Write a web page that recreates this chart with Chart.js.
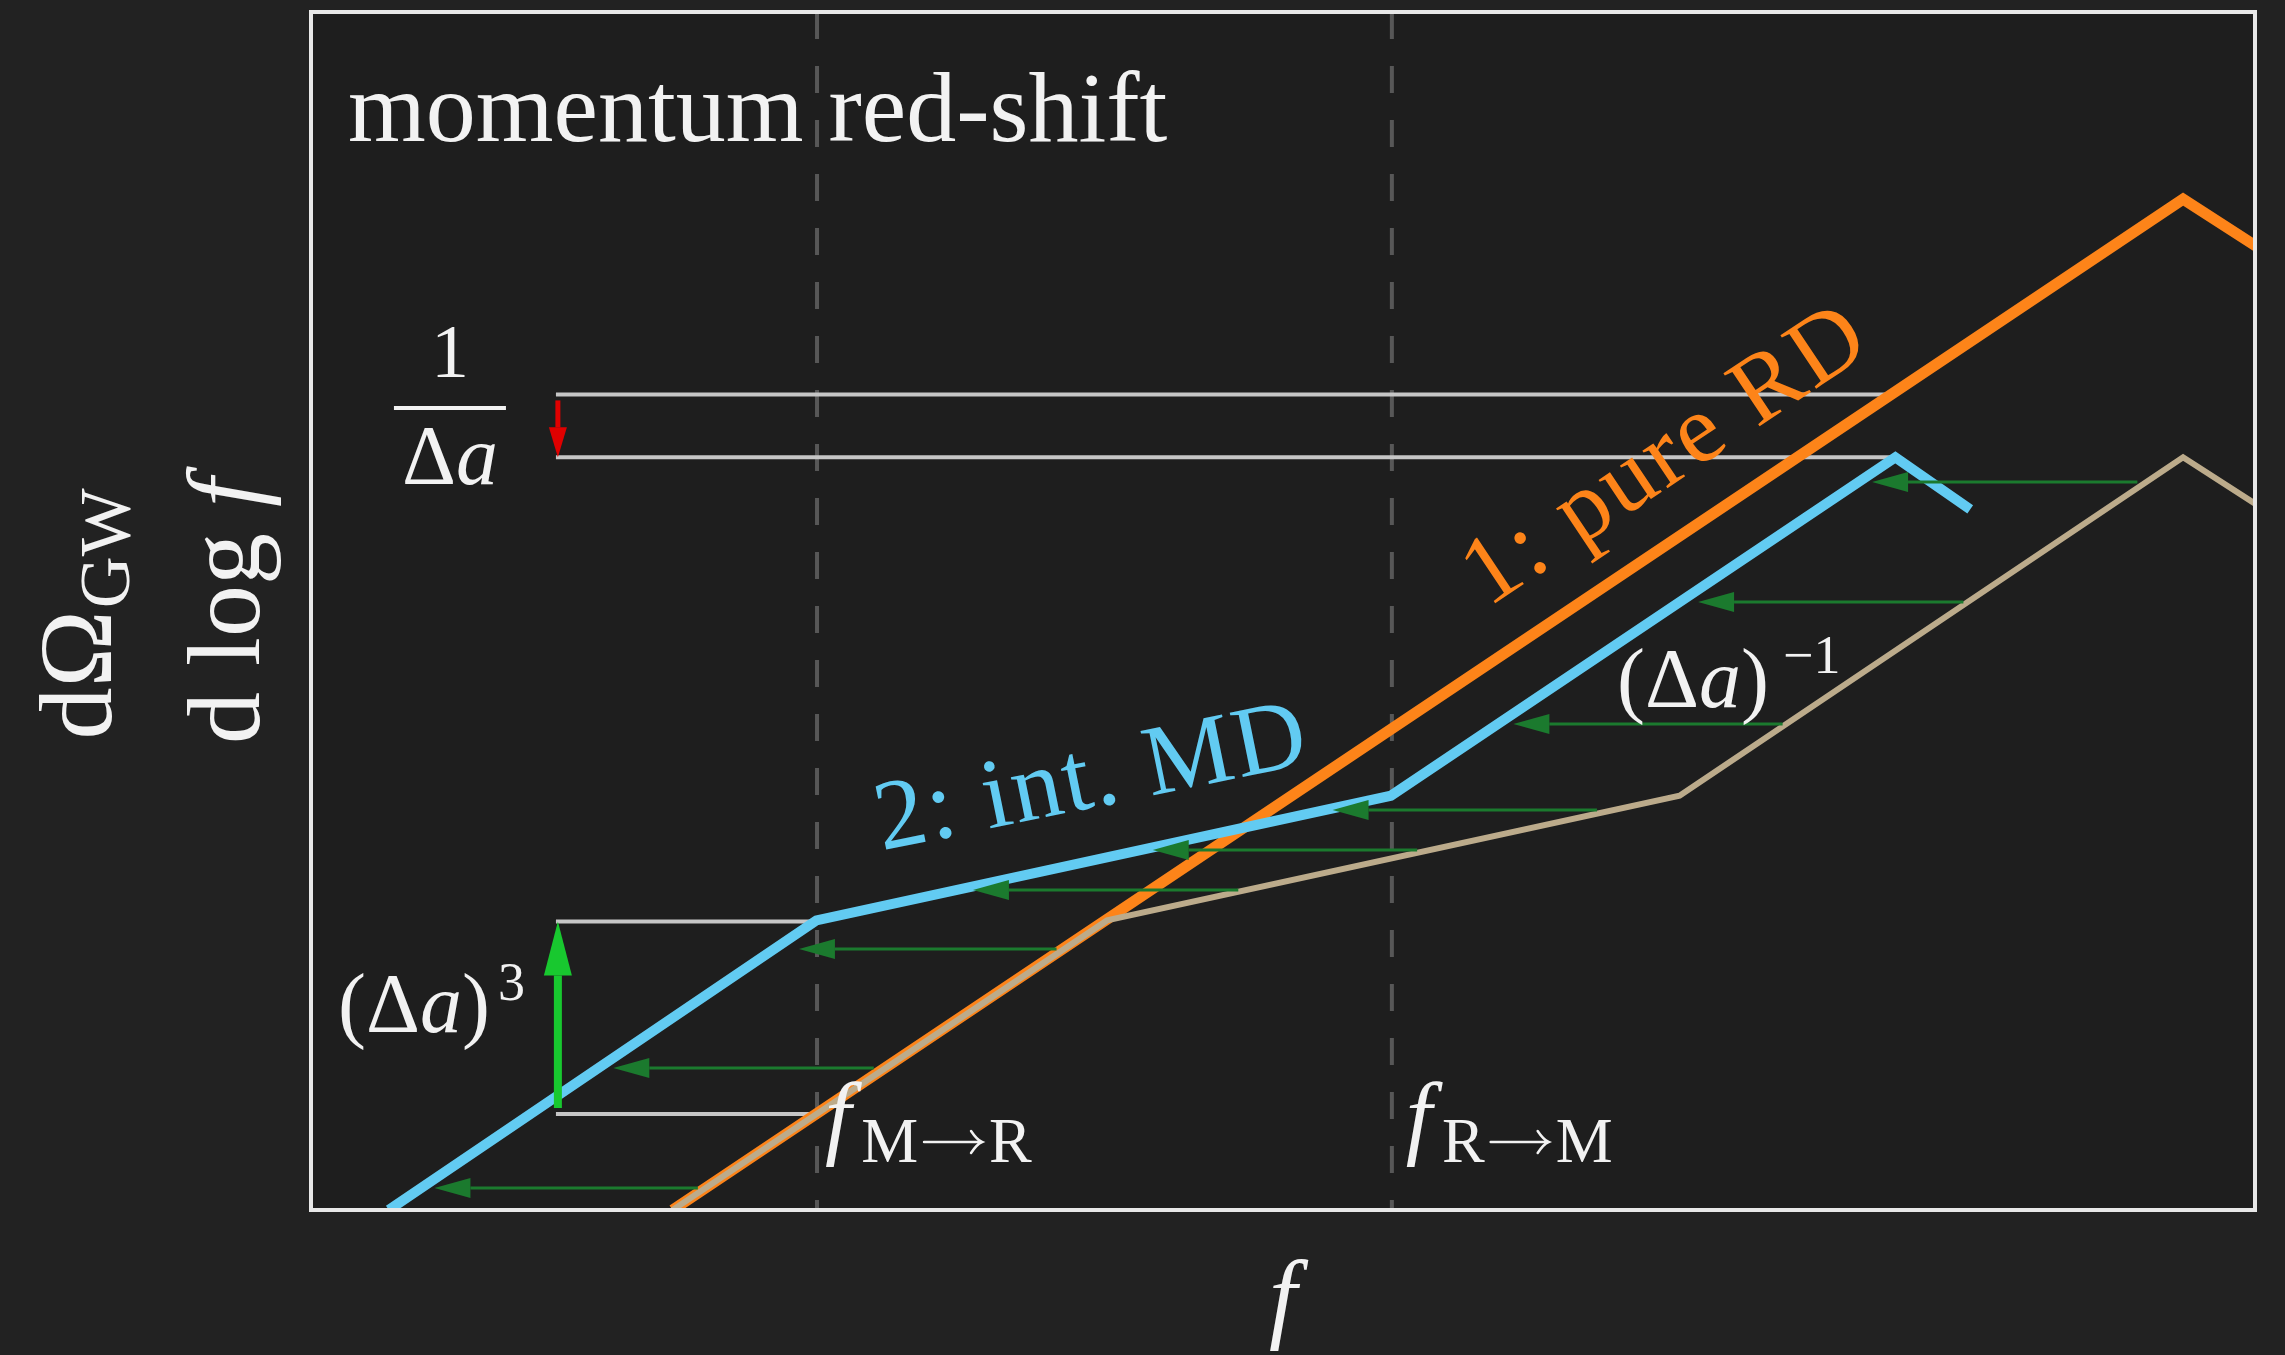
<!DOCTYPE html>
<html>
<head>
<meta charset="utf-8">
<script src="https://cdn.jsdelivr.net/npm/chart.js@4.4.1/dist/chart.umd.min.js"></script>
<style>
  html, body { margin: 0; padding: 0; background: #222222; }
</style>
</head>
<body>
<canvas id="sketch" width="2285" height="1355"></canvas>
<script>
// log f on x, log dOmega/dlog f on y (arbitrary units)
const rdX = [3.72, 19.26, 20.3]
const rdY = [0, 46.6, 43.6]
const mdX = [0.80, 5.20, 11.11, 16.30, 17.07]
const mdY = [0, 13.35, 19.1, 34.7, 32.3]
const shiftedX = [3.72, 8.19, 14.08, 19.26, 20.3]
const shiftedY = [0, 13.35, 19.1, 34.7, 31.7]

// f_M->R and f_R->M
const transitionX = [5.206, 11.12]
const transitionFrom = ['M', 'R']
const transitionTo = ['R', 'M']

// red-shift arrows: level, tail on shifted curve, head at int. MD curve
const arrowY = [1.01, 6.55, 12.03, 14.75, 16.60, 18.44, 22.41, 28.03, 33.56]
const arrowFrom = [3.98, 5.79, 7.67, 9.54, 11.38, 13.23, 15.14, 17.00, 18.79]
const arrowTo = [1.27, 3.11, 5.02, 6.81, 8.66, 10.51, 12.37, 14.27, 16.06]

// amplitude gaps: (Delta a)^3 at f_M->R, 1/Delta a at the peak
const lowBandY = [4.43, 13.3]
const highBandY = [34.7, 37.6]
const bandStartX = 2.52
const bandArrowX = 2.54

const X_MAX = 20
const Y_MAX = 55.23

const BLUE = '#62cbf2'
const ORANGE = '#fd8419'
const TAN = '#bcab8b'
const WHITE = '#f2f2f2'
const SERIF = '"Liberation Serif", "DejaVu Serif", serif'

const toPoints = (xs, ys) => xs.map((x, i) => ({x: x, y: ys[i]}))

function arrow(ctx, x0, y0, x1, y1, color, width, headLen, headHalf) {
  const a = Math.atan2(y1 - y0, x1 - x0)
  const bx = x1 - Math.cos(a) * headLen
  const by = y1 - Math.sin(a) * headLen
  ctx.strokeStyle = color
  ctx.lineWidth = width
  ctx.lineCap = 'butt'
  ctx.beginPath()
  ctx.moveTo(x0, y0)
  ctx.lineTo(bx, by)
  ctx.stroke()
  ctx.fillStyle = color
  ctx.beginPath()
  ctx.moveTo(x1, y1)
  ctx.lineTo(bx - Math.sin(a) * headHalf, by + Math.cos(a) * headHalf)
  ctx.lineTo(bx + Math.sin(a) * headHalf, by - Math.cos(a) * headHalf)
  ctx.closePath()
  ctx.fill()
}

// thin text-style right arrow, as in M->R
function textArrow(ctx, x, y, w) {
  ctx.save()
  ctx.strokeStyle = ctx.fillStyle
  ctx.lineWidth = 2.5
  ctx.lineCap = 'round'
  ctx.beginPath()
  ctx.moveTo(x, y)
  ctx.lineTo(x + w, y)
  ctx.moveTo(x + w - 11, y - 11)
  ctx.quadraticCurveTo(x + w - 5, y - 2, x + w, y)
  ctx.quadraticCurveTo(x + w - 5, y + 2, x + w - 11, y + 11)
  ctx.stroke()
  ctx.restore()
}

// draws a row of text pieces with their own fonts and shifts
function runs(ctx, parts, x, y, align) {
  let w = 0
  parts.forEach(p => {
    if (p.arrowW) { p.w = p.arrowW } else { ctx.font = p.font; p.w = ctx.measureText(p.t).width }
    w += p.w + (p.gap || 0)
  })
  let cx = align === 'center' ? x - w / 2 : x
  parts.forEach(p => {
    if (p.arrowW) {
      textArrow(ctx, cx, y + (p.dy || 0), p.arrowW)
    } else {
      ctx.font = p.font
      ctx.fillText(p.t, cx, y + (p.dy || 0))
    }
    cx += p.w + (p.gap || 0)
  })
}

function deltaA(size, supText, supSize, supDy, supGap) {
  const parts = [
    {t: '(', font: size + 'px ' + SERIF},
    {t: '\u0394', font: size + 'px ' + SERIF},
    {t: 'a', font: 'italic ' + size + 'px ' + SERIF},
    {t: ')', font: size + 'px ' + SERIF, gap: supGap}
  ]
  if (supText) parts.push({t: supText, font: supSize + 'px ' + SERIF, dy: supDy})
  return parts
}

const sketch = {
  id: 'sketch',
  beforeDraw(chart) {
    const {ctx, chartArea: ca} = chart
    ctx.save()
    ctx.fillStyle = '#222222'
    ctx.fillRect(0, 0, chart.width, chart.height)
    ctx.fillStyle = '#1e1e1e'
    ctx.fillRect(ca.left, ca.top, ca.right - ca.left, ca.bottom - ca.top)
    ctx.restore()
  },
  beforeDatasetsDraw(chart) {
    const {ctx, chartArea: ca, scales} = chart
    const X = v => scales.x.getPixelForValue(v)
    const Y = v => scales.y.getPixelForValue(v)
    ctx.save()
    // transition frequencies
    ctx.strokeStyle = '#575757'
    ctx.lineWidth = 4
    ctx.setLineDash([27, 27])
    transitionX.forEach(v => {
      ctx.beginPath()
      ctx.moveTo(X(v), ca.top)
      ctx.lineTo(X(v), ca.bottom)
      ctx.stroke()
    })
    ctx.setLineDash([])
    // reference levels
    ctx.strokeStyle = '#c6c6c6'
    ctx.lineWidth = 4
    lowBandY.forEach(v => {
      ctx.beginPath(); ctx.moveTo(X(bandStartX), Y(v)); ctx.lineTo(X(transitionX[0]), Y(v)); ctx.stroke()
    })
    highBandY.forEach(v => {
      ctx.beginPath(); ctx.moveTo(X(bandStartX), Y(v)); ctx.lineTo(X(mdX[3]), Y(v)); ctx.stroke()
    })
    ctx.restore()
  },
  afterDatasetsDraw(chart) {
    const {ctx, chartArea: ca, scales} = chart
    const X = v => scales.x.getPixelForValue(v)
    const Y = v => scales.y.getPixelForValue(v)
    ctx.save()
    arrowY.forEach((v, i) => {
      arrow(ctx, X(arrowFrom[i]), Y(v), X(arrowTo[i]), Y(v), '#1b7a2e', 3, 36, 10)
    })
    arrow(ctx, X(bandArrowX), Y(lowBandY[0]) - 6, X(bandArrowX), Y(lowBandY[1]), '#18c82f', 8, 54, 14)
    arrow(ctx, X(bandArrowX), Y(highBandY[1]) + 6, X(bandArrowX), Y(highBandY[0]), '#e00000', 5, 30, 9)

    // frame
    ctx.strokeStyle = '#e8e8e8'
    ctx.lineWidth = 4
    ctx.strokeRect(ca.left, ca.top, ca.right - ca.left, ca.bottom - ca.top)
    ctx.restore()
  },
  afterDraw(chart) {
    const {ctx, chartArea: ca, scales} = chart
    const X = v => scales.x.getPixelForValue(v)
    const Y = v => scales.y.getPixelForValue(v)
    ctx.save()
    ctx.textAlign = 'left'
    ctx.textBaseline = 'alphabetic'
    ctx.fillStyle = WHITE

    ctx.font = '100px ' + SERIF
    ctx.fillText('momentum red-shift', ca.left + 37, ca.top + 129)

    // curve labels along their segments
    const rdAngle = Math.atan2(Y(rdY[1]) - Y(rdY[0]), X(rdX[1]) - X(rdX[0]))
    ctx.save()
    ctx.translate(X(14.1), Y(33.72))
    ctx.rotate(rdAngle)
    ctx.fillStyle = ORANGE
    ctx.textAlign = 'center'
    ctx.letterSpacing = '3px'
    ctx.font = '98px ' + SERIF
    ctx.fillText('1: pure RD', 0, 0)
    ctx.restore()

    const mdAngle = Math.atan2(Y(mdY[2]) - Y(mdY[1]), X(mdX[2]) - X(mdX[1]))
    ctx.save()
    ctx.translate(X(8.09), Y(18.6))
    ctx.rotate(mdAngle * 0.94)
    ctx.fillStyle = BLUE
    ctx.textAlign = 'center'
    ctx.letterSpacing = '2px'
    ctx.font = '100px ' + SERIF
    ctx.fillText('2: int. MD', 0, 0)
    ctx.restore()

    // gap labels
    runs(ctx, deltaA(84, '\u22121', 54, -34, 14), 1617, 707, 'left')
    runs(ctx, deltaA(84, '3', 54, -32, 8), 338, 1032, 'left')

    const fx = X(bandStartX) - 106
    ctx.textAlign = 'center'
    ctx.font = '76px ' + SERIF
    ctx.fillText('1', fx, 377)
    ctx.fillRect(fx - 56, 406, 112, 4)
    ctx.textAlign = 'left'
    runs(ctx, [
      {t: '\u0394', font: '84px ' + SERIF},
      {t: 'a', font: 'italic 84px ' + SERIF}
    ], fx, 484, 'center')

    // transition frequency labels
    transitionX.forEach((v, i) => {
      const x0 = X(v) + (i === 0 ? 8 : 14)
      runs(ctx, [
        {t: 'f', font: 'italic 94px ' + SERIF, gap: 10},
        {t: transitionFrom[i], font: '64px ' + SERIF, dy: 15, gap: 6},
        {arrowW: 58, dy: 15 - 20, gap: 7},
        {t: transitionTo[i], font: '64px ' + SERIF, dy: 15}
      ], x0, 1147, 'left')
    })

    // axis titles
    ctx.font = 'italic 100px ' + SERIF
    ctx.textAlign = 'center'
    ctx.fillText('f', (ca.left + ca.right) / 2, 1330)
    ctx.textAlign = 'left'

    ctx.save()
    ctx.translate(111, 614)
    ctx.rotate(-Math.PI / 2)
    runs(ctx, [
      {t: 'd\u03a9', font: '104px ' + SERIF, gap: 2},
      {t: 'GW', font: '72px ' + SERIF, dy: 18}
    ], 0, 0, 'center')
    ctx.restore()

    ctx.save()
    ctx.translate(259, 611)
    ctx.rotate(-Math.PI / 2)
    runs(ctx, [
      {t: 'd log ', font: '104px ' + SERIF},
      {t: 'f', font: 'italic 104px ' + SERIF}
    ], 0, 0, 'center')
    ctx.restore()

    ctx.restore()
  }
}

const lineStyle = {showLine: true, pointRadius: 0, clip: 0, borderJoinStyle: 'miter', borderCapStyle: 'butt', tension: 0}

new Chart(document.getElementById('sketch'), {
  type: 'scatter',
  data: {
    datasets: [
      Object.assign({label: '2: int. MD', data: toPoints(mdX, mdY), borderColor: BLUE, borderWidth: 10}, lineStyle),
      Object.assign({label: 'shifted', data: toPoints(shiftedX, shiftedY), borderColor: TAN, borderWidth: 6}, lineStyle),
      Object.assign({label: '1: pure RD', data: toPoints(rdX, rdY), borderColor: ORANGE, borderWidth: 11}, lineStyle)
    ]
  },
  options: {
    responsive: false,
    animation: false,
    devicePixelRatio: 1,
    layout: {padding: {left: 311, top: 12, right: 30, bottom: 145}},
    plugins: {legend: {display: false}, tooltip: {enabled: false}},
    scales: {
      x: {type: 'linear', min: 0, max: X_MAX, display: false},
      y: {type: 'linear', min: 0, max: Y_MAX, display: false}
    }
  },
  plugins: [sketch]
})
</script>
</body>
</html>
